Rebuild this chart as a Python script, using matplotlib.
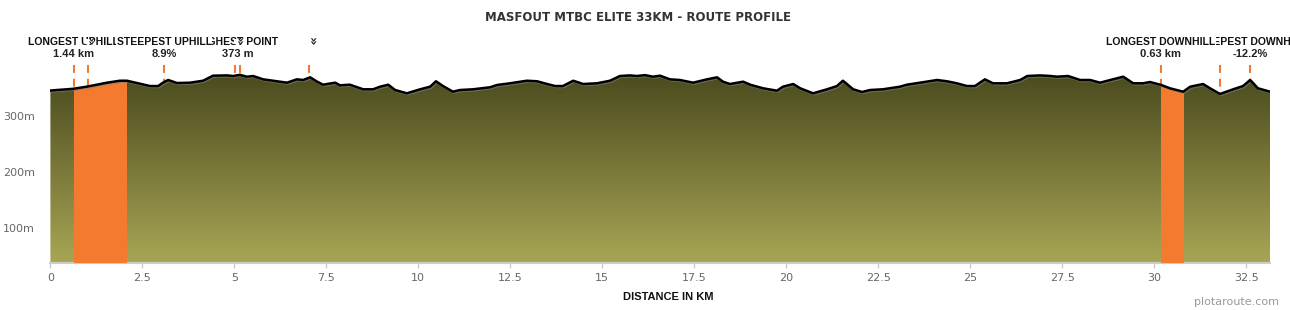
import numpy as np
import matplotlib
matplotlib.use("Agg")
import matplotlib.pyplot as plt
import matplotlib.patheffects as pe
from matplotlib.colors import LinearSegmentedColormap

# route profile (km, metres)
dist_km = [0.0, 0.61, 1.00, 1.54, 1.89, 2.08, 2.35, 2.71, 2.93, 3.06, 3.20, 3.44, 3.80,
           4.15, 4.42, 4.80, 4.96, 5.15, 5.34, 5.51, 5.78, 6.05, 6.43, 6.70, 6.87, 7.06,
           7.25, 7.41, 7.74, 7.87, 8.14, 8.50, 8.77, 8.96, 9.18, 9.37, 9.69, 10.05, 10.32,
           10.48, 10.67, 10.94, 11.13, 11.49, 11.95, 12.14, 12.49, 12.95, 13.23, 13.50,
           13.72, 13.93, 14.21, 14.48, 14.86, 15.21, 15.48, 15.75, 15.95, 16.16, 16.38,
           16.57, 16.84, 17.11, 17.47, 17.85, 18.12, 18.28, 18.47, 18.83, 19.02, 19.37,
           19.75, 19.91, 20.19, 20.38, 20.73, 21.11, 21.38, 21.54, 21.82, 22.06, 22.28,
           22.63, 23.09, 23.28, 23.64, 24.10, 24.37, 24.64, 24.91, 25.13, 25.40, 25.62,
           26.00, 26.36, 26.55, 26.90, 27.17, 27.36, 27.66, 27.99, 28.26, 28.53, 28.88,
           29.16, 29.43, 29.70, 29.89, 30.19, 30.43, 30.79, 30.98, 31.33, 31.52, 31.79,
           32.15, 32.42, 32.61, 32.82, 33.15]
elev_m = [345, 348, 352, 359, 362.5, 362.5, 358.4, 353, 353, 359, 363.8, 358.4, 359,
          362.5, 371.5, 372, 370.9, 373, 369.7, 370.9, 365, 362.5, 359, 365, 363.8, 368.6,
          360.8, 355.4, 359, 354.3, 355.4, 347.2, 347.2, 351.8, 355.4, 345.9, 340, 347.2, 351.8,
          361.5, 353, 342.9, 345.9, 347.2, 350.8, 354.9, 357.9, 362.5, 361.5, 356.6,
          353, 353, 362.5, 356.6, 357.9, 362.5, 370.9, 372, 370.9, 372.5, 369.7,
          371.5, 365, 363.8, 359, 365, 368.6, 360.8, 356.6, 360.8, 355.4, 349,
          344.7, 351.8, 356.6, 349, 340, 347.2, 353, 362.5, 347.2, 342.4, 345.9,
          347.2, 351.8, 355.4, 359, 363.8, 361.5, 357.9, 353, 353, 365, 357.9,
          357.9, 363.8, 370.9, 372, 371, 369.7, 370.9, 363.8, 363.8, 359, 365,
          369.7, 357.9, 357.9, 360.2, 354.9, 349, 342.9, 351.8, 356.6, 349, 338.8,
          347.2, 353.1, 363.8, 349, 342.9]

# highlighted sections
seg_start = [0.64, 30.18]
seg_end = [2.08, 30.81]

# marker lines
marker_km = [0.63, 1.01, 3.09, 5.02, 5.15, 7.03, 30.18, 31.79, 32.6]

# labels above the chart (drawn in this order, later ones on top)
label_km = [5.1, 0.63, 3.09, 32.6, 30.18]
label_name = ["HIGHEST POINT", "LONGEST UPHILL", "STEEPEST UPHILL",
              "STEEPEST DOWNHILL", "LONGEST DOWNHILL"]
label_value = ["373 m", "1.44 km", "8.9%", "-12.2%", "0.63 km"]
icon_km = [1.07, 5.1, 7.1]

xticks = [0, 2.5, 5, 7.5, 10, 12.5, 15, 17.5, 20, 22.5, 25, 27.5, 30, 32.5]
yticks = [100, 200, 300]

ymin, ymax = 37, 435.2
xmax = 33.15
orange = "#f37a2e"

fig = plt.figure(figsize=(12.9, 3.1), dpi=100)
ax = fig.add_axes([50.4 / 1290, 47 / 310, (1270 - 50.4) / 1290, 223 / 310])

# gradient fill under the profile
poly = ax.fill_between(dist_km, elev_m, ymin, color="none", lw=0)
clip = poly.get_paths()[0]
cmap = LinearSegmentedColormap.from_list("olive", ["#a8a655", "#4a4a1e"])
im = ax.imshow(np.linspace(0, 1, 256).reshape(-1, 1), cmap=cmap, aspect="auto",
               extent=[0, xmax, ymin, 375], origin="lower", zorder=2)
im.set_clip_path(clip, transform=ax.transData)

for a, b in zip(seg_start, seg_end):
    r = ax.axvspan(a, b, color=orange, lw=0, zorder=3)
    r.set_clip_path(clip, transform=ax.transData)

ax.plot(dist_km, elev_m, color="black", lw=1.8, zorder=5, solid_joinstyle="round",
        path_effects=[pe.SimpleLineShadow(offset=(0.7, -0.7), shadow_color="gray", alpha=0.6),
                      pe.Normal()])

ax.vlines(marker_km, 390.6, ymin, colors=orange, lw=1.5, linestyles=(0, (3.8, 2.8)), zorder=1)

for k, name, val in zip(label_km, label_name, label_value):
    ax.text(k, 432.5, name, ha="center", va="center", fontsize=7.5, fontweight="bold",
            family="Liberation Sans", color="#111", zorder=6, clip_on=False,
            bbox=dict(facecolor="white", edgecolor="none", pad=0.6))
    ax.text(k, 409.5, val, ha="center", va="center", fontsize=8, fontweight="bold",
            family="Liberation Sans", color="#222", zorder=6, clip_on=False)

for k in icon_km:
    ax.text(k, 432.5, "»", rotation=-90, ha="center", va="center", fontsize=9.5,
            fontweight="bold", color="#222", zorder=7, clip_on=False,
            bbox=dict(facecolor="white", edgecolor="none", pad=-1.5))

ax.set_xlim(0, xmax)
ax.set_ylim(ymin, ymax)
ax.set_xticks(xticks)
ax.set_xticklabels([f"{t:g}" for t in xticks])
ax.set_yticks(yticks)
ax.set_yticklabels([f"{t}m" for t in yticks])
for s in ["top", "right", "left"]:
    ax.spines[s].set_visible(False)
ax.spines["bottom"].set_color("#cccccc")
ax.spines["bottom"].set_linewidth(1.5)
ax.tick_params(axis="x", length=3.6, width=1, color="#cccccc", labelcolor="#666666",
               labelsize=8, pad=3.6)
ax.tick_params(axis="y", length=0, labelcolor="#666666", labelsize=8, pad=11)

fig.text(638 / 1290, 1 - 17.5 / 310, "MASFOUT MTBC ELITE 33KM - ROUTE PROFILE",
         ha="center", va="center", fontsize=8.5, fontweight="bold", color="#333333")
fig.text(668 / 1290, 1 - 297 / 310, "DISTANCE IN KM", ha="center", va="center",
         fontsize=8, fontweight="bold", family="Liberation Sans", color="#111")
fig.text(1279 / 1290, 1 - 302 / 310, "plotaroute.com", ha="right", va="center",
         fontsize=8, color="#999999")

fig.savefig("out.png", dpi=100)
